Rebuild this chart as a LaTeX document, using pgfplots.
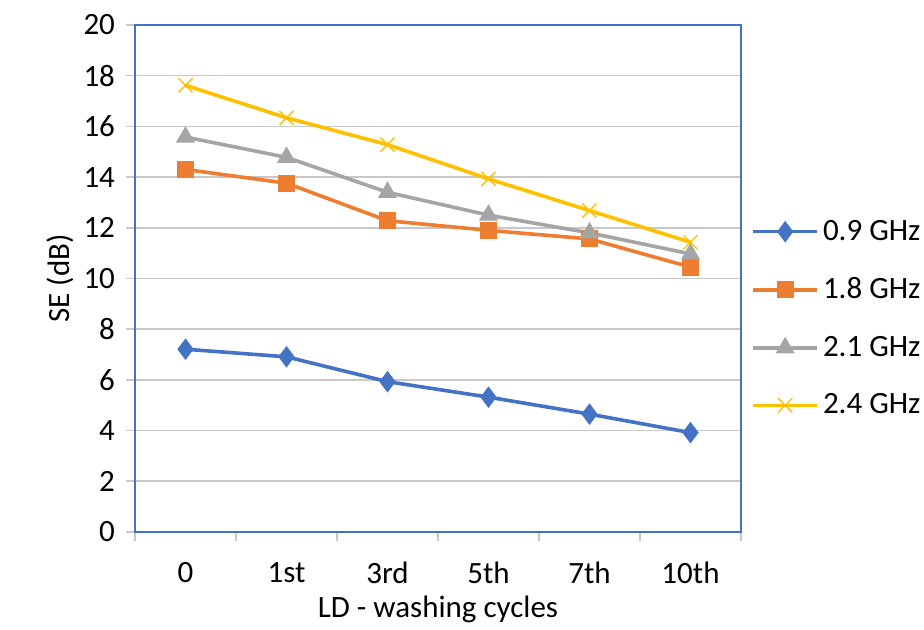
\documentclass[border=0pt]{standalone}
\usepackage{pgfplots}
\pgfplotsset{compat=1.18}
\usepackage{fontspec}
\setmainfont{Carlito}

\definecolor{xlblue}{HTML}{4472C4}
\definecolor{xlorange}{HTML}{ED7D31}
\definecolor{xlgray}{HTML}{A5A5A5}
\definecolor{xlyellow}{HTML}{FFC000}
\definecolor{gridgray}{HTML}{C8C8C8}

\begin{document}
\begin{tikzpicture}
\begin{axis}[
  scale only axis,
  width=303pt, height=253.5pt,
  font=\fontsize{15.5}{18}\selectfont,
  /pgf/number format/assume math mode=true,
  xmin=-0.5, xmax=5.5,
  ymin=0, ymax=20,
  ytick={0,2,...,20},
  xtick={-0.5,0.5,...,5.5},
  x tick label as interval,
  xticklabels={0,1st,3rd,5th,7th,10th},
  ymajorgrids,
  grid style={gridgray, line width=0.8pt},
  axis line style={xlblue, line width=0.7pt},
  tick style={gridgray, line width=0.8pt},
  tick align=outside,
  major tick length=4.5pt,
  xtick pos=bottom, ytick pos=left,
  xticklabel style={yshift=-7pt},
  yticklabel style={xshift=-2pt},
  xlabel={LD - washing cycles},
  ylabel={SE (dB)},
  xlabel style={yshift=1pt},
  ylabel style={yshift=-2pt},
  legend style={at={(1,0.5)}, anchor=west, xshift=2pt, yshift=-20pt,
    draw=none, fill=none, row sep=13.2pt,
    font=\fontsize{15.5}{18}\selectfont,
    nodes={inner xsep=2pt}},
  legend cell align=left,
  legend image code/.code={
    \draw[mark repeat=2, mark phase=2] plot coordinates {(0pt,0pt) (16pt,0pt) (32pt,0pt)};
  },
]
\addplot[xlblue, line width=1.8pt, mark=diamond*, mark size=5pt, mark options={solid, fill=xlblue, line width=0.5pt}]
coordinates {(0,7.21) (1,6.91) (2,5.93) (3,5.32) (4,4.65) (5,3.92)};
\addplot[xlorange, line width=1.8pt, mark=square*, mark size=4pt, mark options={solid, fill=xlorange, line width=0.5pt}]
coordinates {(0,14.3) (1,13.76) (2,12.28) (3,11.9) (4,11.56) (5,10.45)};
\addplot[xlgray, line width=1.8pt, mark=triangle*, mark size=5pt, mark options={solid, fill=xlgray, line width=0.5pt}]
coordinates {(0,15.58) (1,14.78) (2,13.4) (3,12.5) (4,11.8) (5,10.97)};
\addplot[xlyellow, line width=1.8pt, mark=x, mark size=5pt, mark options={solid, line width=0.7pt}]
coordinates {(0,17.62) (1,16.34) (2,15.28) (3,13.93) (4,12.68) (5,11.43)};
\legend{0.9 GHz, 1.8 GHz, 2.1 GHz, 2.4 GHz}
\end{axis}
\pgfresetboundingbox
\path (current axis.south west) ++(-67.5pt,-49pt) coordinate (bl);
\path (current axis.north east) ++(91.5pt,12.5pt) coordinate (tr);
\useasboundingbox (bl) rectangle (tr);
\end{tikzpicture}
\end{document}
